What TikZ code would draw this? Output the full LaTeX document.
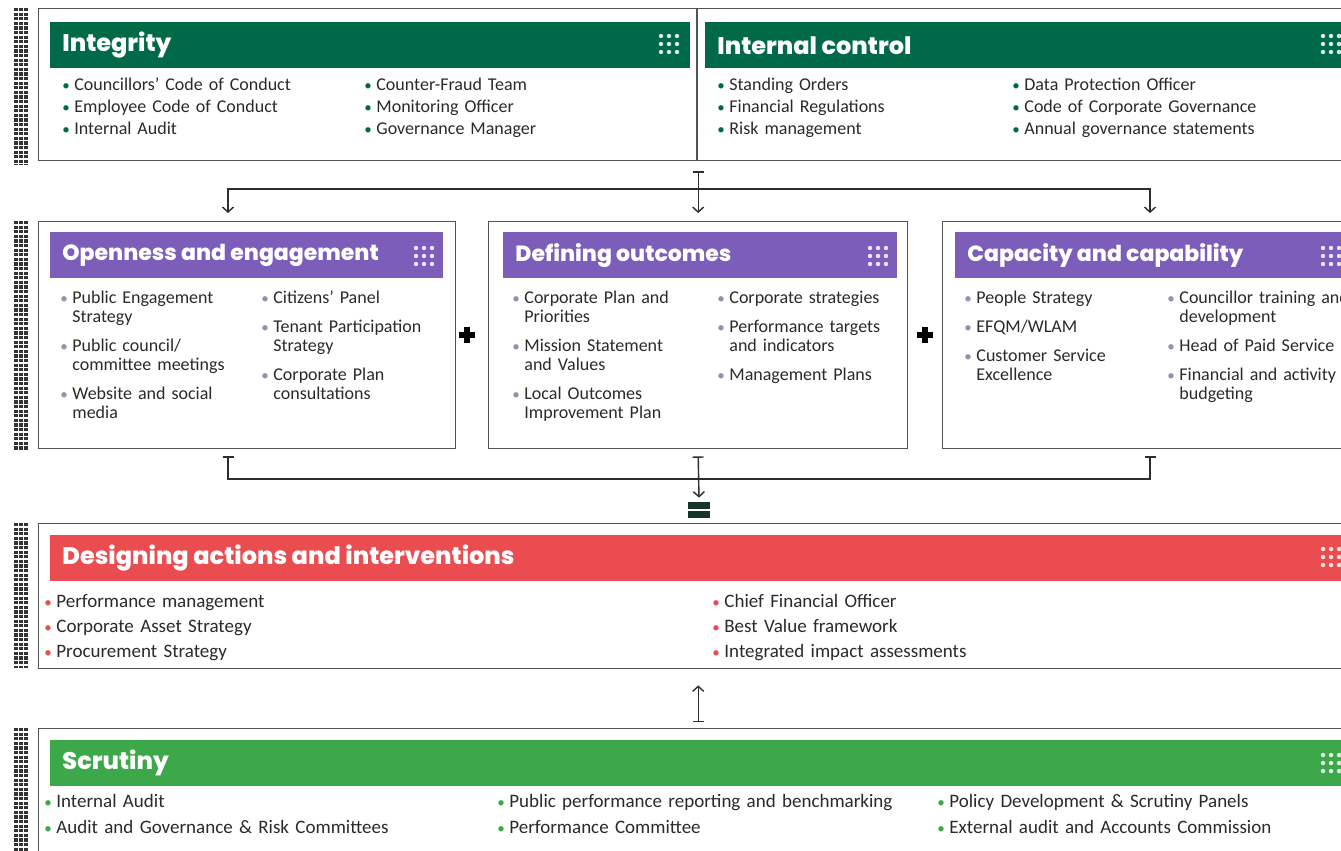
\documentclass[tikz,border=0pt]{standalone}
\usepackage{fontspec}
\setmainfont{Carlito}
\newfontfamily\headfont{Poppins}[BoldFont={Poppins ExtraBold}]
\usetikzlibrary{arrows.meta,positioning}

\definecolor{intgreen}{RGB}{0,106,72}
\definecolor{purphead}{RGB}{124,93,186}
\definecolor{redhead}{RGB}{234,76,80}
\definecolor{scrgreen}{RGB}{61,168,73}
\definecolor{bodytext}{RGB}{42,42,42}
\definecolor{boxline}{RGB}{78,86,84}
\definecolor{linkgray}{RGB}{45,45,45}
\definecolor{purpbul}{RGB}{150,142,172}
\definecolor{eqcol}{RGB}{22,52,44}

\newcommand\bulsym{{\fontsize{15}{15}\selectfont\textbullet}}
\newcommand\bitem[3]{\hangindent=12pt\hangafter=1\noindent
  \makebox[12pt][l]{\textcolor{#1}{\bulsym}}#3\par\vspace{#2}}
\newcommand\topitem[1]{\bitem{intgreen}{3pt}{#1}}
\newcommand\purpitem[1]{\bitem{purpbul}{10pt}{#1}}
\newcommand\reditem[1]{\bitem{redhead}{5pt}{#1}}
\newcommand\scritem[1]{\bitem{scrgreen}{6pt}{#1}}

\begin{document}
\begin{tikzpicture}[
        x=1pt, y=-1pt,
        thick,
        font=\fontsize{18}{19}\selectfont,
        text=bodytext
    ]
    \tikzset{
        panel/.style = {draw=boxline, line width=1.4pt, anchor=north west, inner sep=0pt},
        band/.style = {anchor=north west, inner sep=0pt, minimum height=46pt},
        bandtitle/.style = {anchor=west, inner sep=0pt, text=white,
            font=\headfont\bfseries\fontsize{22}{22}\selectfont},
        bigtitle/.style = {bandtitle, font=\headfont\bfseries\fontsize{24}{24}\selectfont},
        itemcol/.style = {anchor=base west, inner sep=0pt, text width=#1, align=left},
        bigcol/.style = {itemcol=#1, font=\fontsize{19}{20}\selectfont},
        link/.style = {draw=linkgray, line width=1.4pt},
        tarrow/.style = {link, {Bar[width=11pt]}-{Straight Barb[length=5pt,width=11pt]}},
        barbs/.style = {link, {Straight Barb[length=5pt,width=11pt]}-{Straight Barb[length=5pt,width=11pt]}},
        bars/.style = {link, {Bar[width=11pt]}-{Bar[width=11pt]}},
        dotbar/.style = {draw=black!80, line width=3.2pt, dash pattern=on 3.2pt off 1.4pt},
        plusmark/.style = {inner sep=0pt, minimum size=16pt,
            path picture={
                \fill[black] ([yshift=3pt]path picture bounding box.west) rectangle ([yshift=-3pt]path picture bounding box.east);
                \fill[black] ([xshift=-3pt]path picture bounding box.north) rectangle ([xshift=3pt]path picture bounding box.south);
            }},
        eqmark/.style = {inner sep=0pt, minimum width=22pt, minimum height=16pt,
            path picture={
                \fill[eqcol] (path picture bounding box.north west) rectangle ([yshift=-7pt]path picture bounding box.north east);
                \fill[eqcol] (path picture bounding box.south west) rectangle ([yshift=7pt]path picture bounding box.south east);
            }},
    }
    \useasboundingbox (0,0) rectangle (1341,851);
    \fill[white] (0,0) rectangle (1341,851);
    \clip (0,0) rectangle (1341,851);
    %
    \foreach \ya/\yb in {8/165, 221/450, 523/668, 728/851}
        \foreach \bx in {16,21,26}
            \draw[dotbar] (\bx,\ya) -- (\bx,\yb);
    %
    \node[panel, minimum width=1310pt, minimum height=152pt] (top) at (38,8) {};
    \coordinate (divx) at (697,0);
    \draw[draw=boxline, line width=1.4pt] (top.north -| divx) -- (top.south -| divx);
    \node[band, fill=intgreen, minimum width=640pt] (integ) at (50,22) {};
    \node[bigtitle, right=12pt of integ.west] (integt) {Integrity};
    \node[band, fill=intgreen, minimum width=650pt] (intctl) at (705,22) {};
    \node[bigtitle, right=12pt of intctl.west] (intctlt) {Internal control};
    \node[itemcol=290pt] (integA) at (62,90) {\topitem{Councillors' Code of Conduct}\topitem{Employee Code of Conduct}\topitem{Internal Audit}};
    \node[itemcol=290pt] (integB) at (364,90) {\topitem{Counter-Fraud Team}\topitem{Monitoring Officer}\topitem{Governance Manager}};
    \node[itemcol=290pt] (intctlA) at (717,90) {\topitem{Standing Orders}\topitem{Financial Regulations}\topitem{Risk management}};
    \node[itemcol=320pt] (intctlB) at (1012,90) {\topitem{Data Protection Officer}\topitem{Code of Corporate Governance}\topitem{Annual governance statements}};
    %
    \node[panel, minimum width=417pt, minimum height=227pt] (open) at (38,221) {};
    \node[panel, minimum width=419pt, minimum height=227pt] (define) at (488,221) {};
    \node[panel, minimum width=410pt, minimum height=227pt] (capac) at (942,221) {};
    \node[band, fill=purphead, minimum width=393pt] (openh) at (50,232) {};
    \node[band, fill=purphead, minimum width=394pt] (defineh) at (503,232) {};
    \node[band, fill=purphead, minimum width=400pt] (capach) at (955,232) {};
    \node[bandtitle, right=12pt of openh.west] (opent) {Openness and engagement};
    \node[bandtitle, right=12pt of defineh.west] (definet) {Defining outcomes};
    \node[bandtitle, right=12pt of capach.west] (capact) {Capacity and capability};
    \node[itemcol=200pt] (openA) at (60,303) {\purpitem{Public Engagement\newline Strategy}\purpitem{Public council/\newline committee meetings}\purpitem{Website and social\newline media}};
    \node[itemcol=200pt] (openB) at (261,303) {\purpitem{Citizens' Panel}\purpitem{Tenant Participation\newline Strategy}\purpitem{Corporate Plan\newline consultations}};
    \node[itemcol=200pt] (defineA) at (512,303) {\purpitem{Corporate Plan and\newline Priorities}\purpitem{Mission Statement\newline and Values}\purpitem{Local Outcomes\newline Improvement Plan}};
    \node[itemcol=200pt] (defineB) at (717,303) {\purpitem{Corporate strategies}\purpitem{Performance targets\newline and indicators}\purpitem{Management Plans}};
    \node[itemcol=200pt] (capacA) at (964,303) {\purpitem{People Strategy}\purpitem{EFQM/WLAM}\purpitem{Customer Service\newline Excellence}};
    \node[itemcol=250pt] (capacB) at (1167,303) {\purpitem{Councillor training and\newline development}\purpitem{Head of Paid Service}\purpitem{Financial and activity\newline budgeting}};
    \node[plusmark] (plusA) at (467,335) {};
    \node[plusmark] (plusB) at (925,335) {};
    %
    \node[panel, minimum width=1310pt, minimum height=145pt] (design) at (38,523) {};
    \node[band, fill=redhead, minimum width=1300pt] (designh) at (50,535) {};
    \node[bigtitle, right=12pt of designh.west] (designt) {Designing actions and interventions};
    \node[bigcol=600pt] (designA) at (44,607) {\reditem{Performance management}\reditem{Corporate Asset Strategy}\reditem{Procurement Strategy}};
    \node[bigcol=600pt] (designB) at (712,607) {\reditem{Chief Financial Officer}\reditem{Best Value framework}\reditem{Integrated impact assessments}};
    %
    \node[panel, minimum width=1310pt, minimum height=140pt] (scrut) at (38,728) {};
    \node[band, fill=scrgreen, minimum width=1300pt] (scruth) at (50,740) {};
    \node[bigtitle, right=12pt of scruth.west] (scrutt) {Scrutiny};
    \node[bigcol=440pt] (scrutA) at (44,807) {\scritem{Internal Audit}\scritem{Audit and Governance \& Risk Committees}};
    \node[bigcol=440pt] (scrutB) at (497,807) {\scritem{Public performance reporting and benchmarking}\scritem{Performance Committee}};
    \node[bigcol=400pt] (scrutC) at (937,807) {\scritem{Policy Development \& Scrutiny Panels}\scritem{External audit and Accounts Commission}};
    %
    \foreach \cx/\cy in {669/44, 1331/44, 424/256, 878/256, 1331/256, 1331/557, 1331/763}
        \foreach \i in {-1,0,1}
            \foreach \j in {-1,0,1}
                \fill[white, opacity=0.85] (\cx+\i*8,\cy+\j*8) circle (2.2);
    %
    \coordinate (dL) at (228,189);
    \coordinate (dR) at (1150,189);
    \coordinate (eqy) at (0,479);
    \node[eqmark] (eq) at (699,510) {};
    \draw[tarrow] ([yshift=-10pt]top.south -| define.north) -- ([yshift=8pt]define.north);
    \draw[barbs] ([yshift=8pt]open.north -| dL) -- (dL) -- (dR) -- ([yshift=8pt]capac.north -| dR);
    \draw[bars] ([yshift=-7pt]open.south -| dL) -- (dL |- eqy) -- (dR |- eqy) -- ([yshift=-7pt]capac.south -| dR);
    \draw[tarrow] ([yshift=-7pt]define.south) -- ([yshift=4pt]eq.north);
    \draw[tarrow] ([yshift=6pt]scrut.north -| define.south) -- ([yshift=-16pt]design.south -| define.south);
\end{tikzpicture}
\end{document}
